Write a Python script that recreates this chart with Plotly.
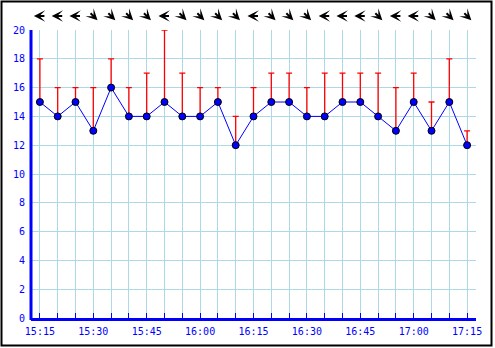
import math
import plotly.graph_objects as go

times = ["2024-01-01 15:15", "2024-01-01 15:20", "2024-01-01 15:25", "2024-01-01 15:30",
         "2024-01-01 15:35", "2024-01-01 15:40", "2024-01-01 15:45", "2024-01-01 15:50",
         "2024-01-01 15:55", "2024-01-01 16:00", "2024-01-01 16:05", "2024-01-01 16:10",
         "2024-01-01 16:15", "2024-01-01 16:20", "2024-01-01 16:25", "2024-01-01 16:30",
         "2024-01-01 16:35", "2024-01-01 16:40", "2024-01-01 16:45", "2024-01-01 16:50",
         "2024-01-01 16:55", "2024-01-01 17:00", "2024-01-01 17:05", "2024-01-01 17:10",
         "2024-01-01 17:15"]
wind_speed = [15, 14, 15, 13, 16, 14, 14, 15, 14, 14, 15, 12, 14,
              15, 15, 14, 14, 15, 15, 14, 13, 15, 13, 15, 12]
wind_gust = [18, 16, 16, 16, 18, 16, 17, 20, 17, 16, 16, 14, 16,
             17, 17, 16, 17, 17, 17, 17, 16, 17, 15, 18, 13]
# direction the wind comes from (degrees)
wind_dir = [90, 90, 90, 315, 315, 315, 315, 90, 315, 315, 315, 315, 90,
            315, 315, 315, 90, 90, 90, 315, 90, 90, 315, 315, 315]

BLUE = "#0000ff"
GRID = "#add8e6"

W, H = 495, 348
ML, MR, MT, MB = 31, 19, 30, 30
PW, PH = W - ML - MR, H - MT - MB

gust_plus = [g - s for g, s in zip(wind_gust, wind_speed)]

fig = go.Figure()
fig.add_trace(go.Scatter(
    x=times, y=wind_speed, mode="lines+markers",
    line=dict(color=BLUE, width=1),
    marker=dict(color=BLUE, size=7, line=dict(color="black", width=1)),
    error_y=dict(type="data", symmetric=False, array=gust_plus,
                 arrayminus=[0] * len(wind_speed),
                 color="red", thickness=1.3, width=3),
    showlegend=False, hoverinfo="skip",
))

def px_x(p):
    return (p - ML) / PW

def px_y(p):
    return (H - MB - p) / PH

# wind direction arrows (pointing where the wind blows to)
L = 12
annotations = []
for t, d in zip(times, wind_dir):
    a = math.radians((d + 180) % 360)  # heading, clockwise from up
    sx, sy = math.sin(a), -math.cos(a)  # screen direction (y down)
    annotations.append(dict(
        x=t, xref="x", y=px_y(16), yref="paper", text="",
        showarrow=True, arrowhead=3, arrowsize=0.95, arrowwidth=2,
        arrowcolor="black", ax=-L * sx, ay=-L * sy,
        xshift=L / 2 * sx, yshift=-L / 2 * sy,
    ))

fig.update_layout(
    width=W, height=H, autosize=False,
    margin=dict(l=ML, r=MR, t=MT, b=MB),
    paper_bgcolor="white", plot_bgcolor="white",
    font=dict(family="DejaVu Sans Mono", size=10, color=BLUE),
    annotations=annotations,
    shapes=[
        dict(type="rect", xref="paper", yref="paper",
             x0=px_x(1.5), x1=px_x(491.5), y0=px_y(345.5), y1=px_y(1.5),
             line=dict(color="black", width=2), layer="above"),
        dict(type="line", xref="paper", yref="paper",
             x0=0, x1=0, y0=px_y(320), y1=1,
             line=dict(color=BLUE, width=3), layer="above"),
    ],
)
fig.update_xaxes(
    type="date", range=["2024-01-01 15:12:30", "2024-01-01 17:17:30"],
    tick0="2024-01-01 15:15", dtick=900000, tickformat="%H:%M",
    ticks="inside", ticklen=5, tickcolor=BLUE, tickwidth=1,
    showgrid=True, gridcolor=GRID, gridwidth=1,
    minor=dict(dtick=300000, tick0="2024-01-01 15:15", ticks="inside",
               ticklen=5, tickcolor=BLUE, showgrid=True, gridcolor=GRID),
    showline=True, linecolor=BLUE, linewidth=3, zeroline=False,
    ticklabelstandoff=2,
    tickfont=dict(family="DejaVu Sans Mono", size=10, color=BLUE),
)
fig.update_yaxes(
    range=[0, 20], dtick=2, tick0=0,
    showgrid=True, gridcolor=GRID, gridwidth=1,
    showline=False, zeroline=False, ticklabelstandoff=5,
    ticks="", tickfont=dict(family="DejaVu Sans Mono", size=10, color=BLUE),
)

fig.write_html("out.html")
